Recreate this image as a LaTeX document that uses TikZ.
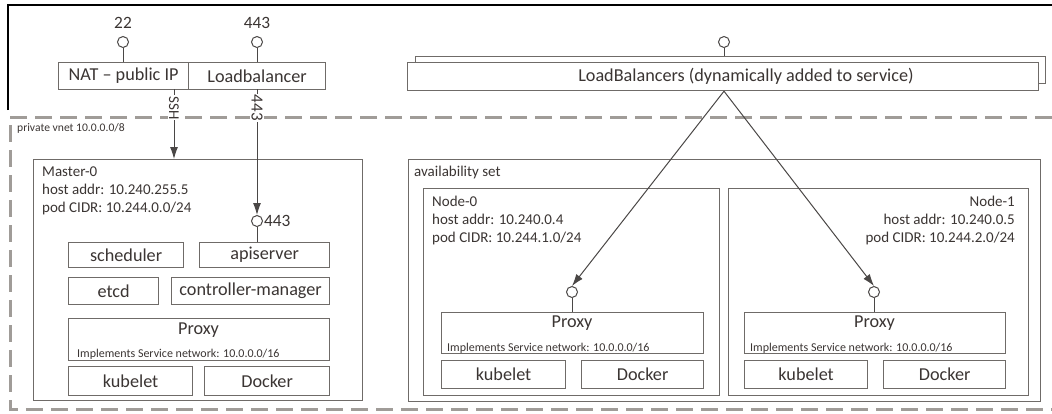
\documentclass[tikz,border=0pt]{standalone}
\usepackage{fontspec}
\setmainfont{Carlito}
\usetikzlibrary{arrows.meta}
\definecolor{txt}{HTML}{3B3533}
\definecolor{boxc}{HTML}{6F6B68}
\definecolor{linec}{HTML}{4A4746}
\definecolor{dashc}{HTML}{A09C98}
\tikzset{
 box/.style={draw=boxc, line width=1.2pt, fill=white, inner sep=0pt, anchor=north west, text=txt},
 big/.style={font=\fontsize{18.2}{19}\selectfont, text=txt},
 portlbl/.style={font=\fontsize{17.3}{18}\selectfont, text=txt},
 info/.style={font=\fontsize{15}{17}\selectfont, text=txt, inner sep=0pt},
 small/.style={font=\fontsize{11.6}{13}\selectfont, text=txt, inner sep=0pt},
 tinytxt/.style={font=\fontsize{12}{12}\selectfont, text=txt, inner sep=0pt},
 port/.style={circle, draw=linec, line width=1pt, fill=white, minimum size=11pt, inner sep=0pt},
 conn/.style={draw=linec, line width=1pt},
 arr/.style={conn, -{Latex[length=12pt,width=8pt]}},
 vnet/.style={draw=dashc, line width=3pt, dash pattern=on 17pt off 8pt},
 frame/.style={draw=black, line width=1.2pt},
}
\newcommand\bx[6]{\node[box,big,minimum width={(#4-#2)*1pt},minimum height={(#5-#3)*1pt}] (#1) at (#2,#3) {#6};}
\newcommand\impltext{Implements Service network: 10.0.0.0/16}
\begin{document}
\begin{tikzpicture}[x=1pt,y=-1pt]
\useasboundingbox (0,0) rectangle (1052,413);
% outer frame and private vnet
\draw[frame] (8,110) -- (8,5) -- (1052,5);
\draw[vnet] (1052,117) -- (10,117) -- (10,409) -- (1052,409);
\node[small, anchor=base west] (vnetlbl) at (17,131) {private vnet 10.0.0.0/8};

% public endpoints
\node[port] (p22) at (123,42) {};
\node[portlbl] (l22) at (123,23) {22};
\node[port] (p443) at (257,42) {};
\node[portlbl] (l443) at (257,23) {443};
\bx{nat}{58}{62}{188}{89}{NAT – public IP}
\bx{lb}{188}{62}{325}{89}{Loadbalancer}
\draw[conn] (p22) -- (p22 |- nat.north);
\draw[conn] (p443) -- (p443 |- lb.north);

% Master
\node[box, minimum width=329pt, minimum height=241pt] (master) at (33,159) {};
\node[info, anchor=base west] (m0) at (42,176) {Master-0};
\node[info, anchor=base west] (m1) at (42,194) {host addr: 10.240.255.5};
\node[info, anchor=base west] (m2) at (42,212) {pod CIDR: 10.244.0.0/24};
\node[port] (mport) at (257,221) {};
\node[portlbl, anchor=west, inner sep=1pt] (m443) at (mport.east) {443};
\coordinate (sshtop) at (174,89);
\coordinate (httpstop) at (257,89);
\draw[arr] (sshtop) -- (sshtop |- master.north)
  node[pos=0.27, rotate=-90, fill=white, inner sep=1pt, font=\fontsize{15}{15}\selectfont, text=txt] (sshl) {SSH};
\draw[arr] (httpstop) -- (mport.north)
  node[pos=0.15, rotate=-90, fill=white, inner sep=1pt, font=\fontsize{17}{17}\selectfont, text=txt] (httpsl) {443};
\bx{sched}{68}{242}{183}{267}{scheduler}
\bx{api}{199}{242}{329}{267}{apiserver}
\draw[conn] (mport.south) -- (mport.south |- api.north);
\bx{etcd}{68}{277}{158}{304}{etcd}
\bx{cm}{171}{277}{329}{304}{controller-manager}
\bx{mproxy}{68}{318}{329}{360}{}
\node[big] (mproxyl) at (198.5,330) {Proxy};
\node[tinytxt, anchor=base west] (mproxys) at (77,357) {\impltext};
\bx{mkube}{68}{366}{192}{395}{kubelet}
\bx{mdock}{204}{366}{329}{395}{Docker}

% dynamic load balancers
\node[box, minimum width=630pt, minimum height=27pt] (lbback) at (415,56) {};
\bx{lbs}{407}{62}{1038}{90}{}
\node[big] (lbsl) at (746,76) {LoadBalancers (dynamically added to service)};
\node[port] (lport) at (724,42) {};
\draw[conn] (lport.south) -- (lport.south |- lbback.north);
\coordinate (lbo) at (lport |- lbs.south);

% availability set
\node[box, minimum width=632pt, minimum height=242pt] (avail) at (408,159) {};
\node[info, anchor=base west] (availl) at (414,176) {availability set};

% Node-0
\node[box, minimum width=296pt, minimum height=207pt] (node0) at (423,188) {};
\node[info, anchor=base west] (n0a) at (432,206) {Node-0};
\node[info, anchor=base west] (n0b) at (432,224) {host addr: 10.240.0.4};
\node[info, anchor=base west] (n0c) at (432,242) {pod CIDR: 10.244.1.0/24};
\node[port] (n0port) at (572,292) {};
\bx{n0proxy}{441}{312}{703}{353}{}
\node[big] (n0proxyl) at (572,323) {Proxy};
\node[tinytxt, anchor=base west] (n0proxys) at (447,351) {\impltext};
\draw[conn] (n0port.south) -- (n0port.south |- n0proxy.north);
\bx{n0kube}{441}{360}{565}{388}{kubelet}
\bx{n0dock}{581}{360}{703}{388}{Docker}

% Node-1
\node[box, minimum width=300pt, minimum height=207pt] (node1) at (728,188) {};
\node[info, anchor=base east] (n1a) at (1015,206) {Node-1};
\node[info, anchor=base east] (n1b) at (1015,224) {host addr: 10.240.0.5};
\node[info, anchor=base east] (n1c) at (1015,242) {pod CIDR: 10.244.2.0/24};
\node[port] (n1port) at (874,292) {};
\bx{n1proxy}{744}{312}{1005}{353}{}
\node[big] (n1proxyl) at (874.5,323) {Proxy};
\node[tinytxt, anchor=base west] (n1proxys) at (750,351) {\impltext};
\draw[conn] (n1port.south) -- (n1port.south |- n1proxy.north);
\bx{n1kube}{744}{360}{867}{388}{kubelet}
\bx{n1dock}{883}{360}{1005}{388}{Docker}

% load balancer fan-out
\draw[arr] (lbo) -- (n0port.north);
\draw[arr] (lbo) -- (n1port.north);
\end{tikzpicture}
\end{document}
